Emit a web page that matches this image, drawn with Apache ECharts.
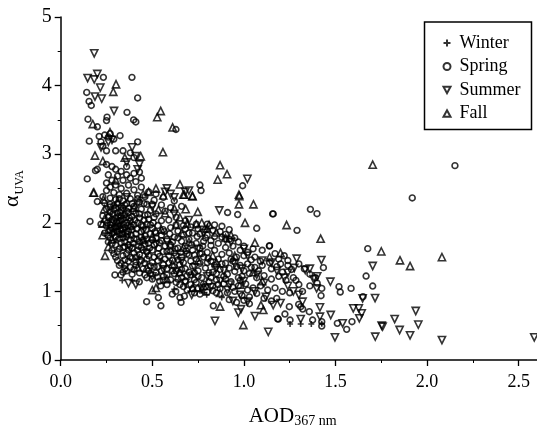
<!DOCTYPE html>
<html><head><meta charset="utf-8">
<style>html,body{margin:0;padding:0;background:#fff}#c{width:537px;height:426px}</style>
<script src="https://cdn.jsdelivr.net/npm/echarts@6/dist/echarts.min.js"></script>
</head><body><div id="c"></div>
<script>
const seasons=["Winter","Spring","Summer","Fall"];
const winter=[[.336,1.16],[.391,1.16],[.62,1.03],[.797,.95],[.879,.91],[1.252,.525],[1.31,.525],[1.368,.525],[1.425,.53],[.55,1.45],[.72,1.25],[.3,1.75],[.43,1.5],[.78,.98],[.76,1.01]];
const spring=[
[.16,2.02],[.2,2.31],[.296,1.24],[.329,1.24],[.429,1.14],[.469,.85],[.533,.91],[.547,.79],[.546,1.08],[.609,.96],[.628,1.0],[.651,.91],[.675,.93],[.657,.84],[.833,.79],[.911,2.15],[.966,2.12],[1.07,1.92],[1.157,2.13],[1.139,1.66],[1.184,.6],
[.233,4.12],[.389,4.12],[.142,3.9],[.155,3.77],[.167,3.71],[.42,3.82],[.362,3.61],[.398,3.5],[.41,3.47],[.149,3.51],[.253,3.54],[.25,3.49],[.2,3.4],[.324,3.27],[.629,3.36],[.156,3.19],[.42,3.18],[.76,2.55],[.766,2.47],[.993,2.54],[.145,2.64],
[1.16,2.13],[1.363,2.196],[1.399,2.133],[1.29,1.89],[1.14,1.667],[1.676,1.623],[1.434,1.346],[1.667,1.224],[1.703,1.078],[1.585,1.044],[1.519,1.069],[1.526,.991],[1.65,.923],[1.425,1.044],[1.421,.937],[1.357,.704],[1.299,.811],[1.31,.777],[1.321,.743],[1.248,.777],[1.224,.67],[1.188,.597],[1.252,.583],[1.375,.583],[1.425,.558],[1.425,.495],[1.51,.534],[1.561,.447],[1.59,.558],[1.179,.899],[1.284,1.161],[2.152,2.833],[1.919,2.362],
[.21,3.26],[.22,3.18],[.24,3.28],[.26,3.25],[.23,3.12],[.25,3.05],[.27,3.3],[.29,3.22],[.3,3.05],[.34,3.05],[.38,3.02],[.4,2.95],[.36,2.82],[.25,2.85],[.28,2.82],[.2,2.78],[.19,2.76],[.26,2.7],[.3,2.78],[.33,2.75],[.36,2.7],[.4,2.72],[.43,2.74],[.44,2.65],[.41,2.6],[.38,2.65],[.34,2.62],[.31,2.68],[.28,2.62],[.25,2.58],[.27,2.52],[.3,2.55],[.33,2.5],[.37,2.55],[.4,2.48],[.44,2.52],[.48,2.45],[.52,2.42],[.25,2.47],[.29,2.44],[.32,2.41],[.36,2.43],[.42,2.4],[.46,2.38],[.51,2.33],[.56,2.37],[.62,2.32],[.23,2.38],[.27,2.36],[.3,2.34],[.34,2.32],[.38,2.35],[.43,2.3],[.47,2.27],[.55,2.26],[.6,2.22],[.66,2.24],
[.24,2.29],[.27,2.27],[.29,2.25],[.31,2.28],[.33,2.24],[.35,2.26],[.37,2.21],[.4,2.24],[.44,2.2],[.49,2.18],[.52,2.13],[.57,2.17],[.63,2.08],[.68,2.03],[.74,1.98],[.8,1.98],[.84,1.97],[.88,1.95],[.92,1.9],
[.25,2.2],[.27,2.16],[.29,2.19],[.31,2.14],[.33,2.18],[.35,2.12],[.37,2.15],[.39,2.09],[.41,2.14],[.43,2.07],[.46,2.11],[.48,2.05],[.51,2.08],[.55,2.03],[.59,2.04],[.63,1.97],[.67,1.96],[.71,1.94],[.75,1.91],[.79,1.9],[.83,1.89],[.87,1.87],[.9,1.83],[.95,1.78],
[.23,2.1],[.26,2.08],[.28,2.05],[.3,2.07],[.32,2.03],[.34,2.06],[.36,2.0],[.38,2.03],[.4,1.97],[.42,2.0],[.45,1.95],[.47,1.98],[.5,1.92],[.53,1.96],[.56,1.9],[.6,1.93],[.64,1.88],[.68,1.91],[.72,1.85],[.76,1.84],[.8,1.82],[.84,1.8],[.88,1.79],[.92,1.76],[.97,1.72],[1.0,1.66],
[.22,1.98],[.25,1.95],[.27,1.97],[.29,1.92],[.31,1.95],[.33,1.9],[.35,1.93],[.37,1.87],[.39,1.9],[.41,1.84],[.44,1.87],[.46,1.81],[.49,1.84],[.52,1.78],[.55,1.82],[.58,1.76],[.62,1.79],[.66,1.73],[.7,1.76],[.74,1.7],[.78,1.73],[.82,1.67],[.86,1.7],[.9,1.64],[.94,1.66],[.98,1.6],[1.02,1.57],[1.06,1.5],
[.24,1.85],[.26,1.82],[.28,1.84],[.3,1.8],[.32,1.83],[.34,1.78],[.36,1.8],[.38,1.75],[.4,1.77],[.43,1.72],[.45,1.75],[.48,1.7],[.51,1.68],[.54,1.71],[.57,1.66],[.6,1.68],[.64,1.63],[.68,1.66],[.72,1.6],[.76,1.63],[.8,1.57],[.84,1.6],[.88,1.54],[.92,1.56],[.96,1.5],[1.0,1.52],[1.04,1.46],[1.09,1.44],[1.14,1.42],
[.26,1.72],[.28,1.7],[.3,1.68],[.33,1.71],[.35,1.65],[.37,1.68],[.39,1.63],[.42,1.6],[.44,1.64],[.47,1.58],[.5,1.6],[.53,1.55],[.56,1.58],[.59,1.52],[.62,1.56],[.66,1.5],[.7,1.53],[.74,1.47],[.78,1.5],[.82,1.44],[.86,1.47],[.9,1.41],[.94,1.44],[.98,1.38],[1.02,1.4],[1.06,1.35],[1.1,1.38],[1.15,1.33],[1.2,1.4],[1.24,1.45],[1.22,1.52],[1.19,1.47],
[.29,1.55],[.31,1.58],[.34,1.52],[.36,1.55],[.39,1.48],[.41,1.5],[.44,1.45],[.47,1.47],[.5,1.42],[.53,1.45],[.56,1.39],[.59,1.42],[.62,1.36],[.65,1.39],[.68,1.33],[.72,1.37],[.75,1.3],[.79,1.34],[.83,1.28],[.87,1.32],[.91,1.25],[.95,1.29],[.99,1.22],[1.03,1.26],[1.07,1.2],[1.11,1.23],[1.15,1.18],[1.19,1.22],[1.23,1.16],[1.27,1.2],
[.31,1.45],[.33,1.41],[.35,1.38],[.38,1.35],[.41,1.38],[.45,1.33],[.48,1.3],[.52,1.27],[.55,1.3],[.58,1.24],[.62,1.26],[.66,1.2],[.69,1.23],[.73,1.17],[.77,1.2],[.81,1.14],[.85,1.17],[.89,1.11],[.93,1.14],[.97,1.08],[1.01,1.11],[1.05,1.05],[1.09,1.08],[1.13,1.02],[1.17,1.05],[1.21,1.0],[1.25,.98],
[.34,1.28],[.39,1.25],[.5,1.18],[.54,1.15],[.58,1.1],[.63,1.13],[.67,1.07],[.71,1.1],[.75,1.04],[.79,1.07],[.83,1.01],[.87,1.04],[.91,.98],[.95,1.0],[.99,.94],[1.03,.92],[1.07,.97],[1.11,.9],[1.15,.86],[.73,.98],[.76,.96],[.8,.99],[.92,.88],[.96,.84],[1.0,.87],[1.03,.82],
[1.3,1.4],[1.33,1.33],[1.36,1.25],[1.39,1.2],[1.3,1.1],[1.26,1.32],[1.21,1.28],[1.18,1.36],[1.24,1.38],[1.05,1.62],[1.1,1.6],[1.17,1.55],[1.4,1.12],[1.36,1.08],[1.32,1.0],
[.27,2.23],[.285,2.13],[.3,2.22],[.315,2.09],[.325,2.15],[.34,2.21],[.355,2.07],[.365,1.96],[.28,2.0],[.3,1.94],[.315,1.99],[.33,2.1],[.345,1.97],[.36,2.17],[.375,2.07],[.385,1.94],[.395,2.17],[.405,2.04],[.415,1.91],[.43,2.13],[.44,1.97],[.455,2.04],[.465,1.9],[.475,2.12],[.49,1.97],[.505,2.0],[.515,1.87],[.27,1.89],[.29,1.86],[.305,1.88],[.32,1.77],[.335,1.84],[.35,1.72],[.365,1.83],[.385,1.82],[.395,1.7],[.415,1.76],[.425,1.66],[.44,1.79],[.46,1.69],[.47,1.76],[.485,1.63],[.5,1.75],[.52,1.85],[.535,1.63],[.55,1.74],[.565,1.87],[.58,1.58],[.595,1.84],[.61,1.72],[.625,1.62],[.64,1.78],[.655,1.57],[.67,1.82],[.685,1.59],[.7,1.85],[.715,1.68],[.73,1.53],[.745,1.8],[.76,1.55],[.775,1.66],[.79,1.78],[.805,1.48],[.82,1.74],
[.32,1.62],[.34,1.64],[.35,1.46],[.37,1.6],[.38,1.5],[.4,1.56],[.41,1.43],[.43,1.54],[.45,1.6],[.46,1.41],[.48,1.52],[.49,1.37],[.51,1.5],[.53,1.36],[.54,1.51],[.57,1.47],[.58,1.33],[.6,1.58],[.61,1.45],[.63,1.3],[.64,1.46],[.66,1.32],[.67,1.42],[.69,1.55],[.7,1.28],[.71,1.44],[.73,1.27],[.76,1.41],[.77,1.55],[.8,1.42],[.81,1.27],[.84,1.38],[.85,1.26],[.88,1.4],[.89,1.22],[.92,1.34],[.93,1.47],[.96,1.36],[.97,1.2],[1.0,1.3],[1.04,1.35],[1.08,1.3],
[.36,1.3],[.4,1.32],[.43,1.27],[.46,1.24],[.49,1.26],[.51,1.36],[.53,1.21],[.56,1.22],[.6,1.17],[.61,1.3],[.64,1.18],[.65,1.27],[.68,1.15],[.71,1.24],[.74,1.13],[.75,1.22],[.78,1.11],[.82,1.2],[.83,1.08],[.86,1.1],[.9,1.18],[.94,1.06],[.98,1.16],[1.02,1.02],[.72,1.04],[.69,1.02],[.85,.98],[.65,1.1],[.56,1.16],[.47,1.2],
[.28,1.6],[.3,1.5],[.32,1.38],[.35,1.33],[.37,1.44],[.27,1.78],[.255,2.0],[.265,2.1],[.275,1.93],[.31,1.87],[.325,1.96],[.34,1.91],[.355,1.86],[.29,2.03],[.305,2.01],[.36,2.28],[.39,2.28],[.32,2.35],[.42,2.35],[.455,2.28],[.5,2.27]
];
const summer=[
[.183,4.47],[.147,4.11],[.183,4.09],[.2,4.17],[.216,3.97],[.187,3.84],[.224,3.81],[.291,3.63],[1.019,2.64],[.842,.57],[1.133,.41],[.866,2.18],[1.06,.64],[.97,.69],[.984,.74],[.715,.95],
[1.288,1.477],[1.423,1.457],[1.703,1.37],[1.275,1.341],[1.335,1.312],[1.472,1.141],[1.397,1.044],[1.716,.903],[1.648,.899],[1.597,.753],[1.627,.753],[1.643,.68],[1.63,.607],[1.938,.714],[1.823,.597],[1.952,.515],[1.752,.5],[1.757,.485],[1.85,.437],[1.907,.359],[1.717,.34],[1.497,.33],[2.081,.291],[2.585,.33],[1.474,.656],[1.539,.534],[1.415,.767],[1.415,.631],[1.31,.597],
[.26,3.18],[.28,3.21],[.22,3.1],[.39,3.1],[.41,2.97],[.43,2.85],[.36,2.88],[.42,2.78],[.62,2.37],[.6,2.42],[.57,2.45],[.58,2.5],[.68,2.45],[.7,2.47],[.36,2.37],[.42,2.28],[.5,2.23],[.62,2.13],[.7,2.04],[.78,1.85],[.9,1.75],[.93,1.72],[1.0,1.62],[1.02,1.52],[1.1,1.45],[1.15,1.42],[1.18,1.3],[1.24,1.08],[1.27,1.0],[1.3,.95],[1.12,.92],[1.16,.8],[1.2,.83],
[.37,1.12],[.41,1.1],[.5,1.22],[.56,1.32],[.66,1.44],[.8,1.22],[.87,1.15],[.92,1.1],[.98,.95],[1.02,.85],[1.06,1.0],[.95,1.4],[.99,1.33],[.85,1.34],[.75,1.62],[.52,1.68],[.45,1.88],[.33,2.02],[1.32,.85],[1.36,1.33],[1.38,1.18],[1.4,1.22],[1.24,1.27],[1.22,1.2],
[1.07,1.24],[1.11,1.12],[.89,1.3],[.91,1.02],[.94,.86],[1.0,1.15],[.82,1.06],[.73,1.35],[.63,1.5],[.58,1.72],[.47,1.55],[.38,1.63],[.3,1.9],[.43,1.42],[.68,1.12],[.77,1.04]
];
const fall=[
[.302,4.02],[.287,3.91],[.546,3.63],[.527,3.54],[.175,3.44],[.269,3.32],[.558,3.03],[.437,2.97],[.187,2.98],[.611,3.39],[.87,2.84],[.908,2.71],[.857,2.63],[.651,2.56],[.675,2.41],[.718,2.39],[.975,2.39],[.182,2.44],[.997,.51],[.973,2.41],[.973,2.27],[1.052,2.27],[1.006,2.0],[1.06,1.71],[1.093,.8],[1.106,.73],[.87,.78],[.178,2.44],[.233,2.34],[.238,2.2],[.229,1.99],[.229,1.82],[.26,1.65],[.242,1.52],[.669,2.41],[.72,2.39],[.682,2.2],[.748,2.16],[.533,2.19],
[1.233,1.968],[1.419,1.768],[1.75,1.584],[1.852,1.453],[1.907,1.37],[2.081,1.5],[1.703,2.848],
[.48,2.45],[.52,2.5],[.45,2.42],[.56,2.4],[.62,2.21],[.57,2.14],[.65,2.08],[.8,1.92],[.85,1.86],[.74,1.98],[.66,1.85],[.9,1.78],[.7,1.72],[.55,1.9],[.6,1.68],[.45,1.75],[.34,1.85],[.31,2.3],[.4,2.22],[.3,2.62],[.35,2.95],[.23,2.9],[.95,1.52],[.85,1.42],[.65,1.28],[.58,1.18],[.78,1.08],[.87,.98],[1.05,1.28],[1.1,1.15],[1.2,1.56],[1.14,1.5],[.72,1.05],[.52,1.05],[.5,1.02],[.42,1.35],[.98,1.1],
[.63,1.97],[.69,1.99],[.77,2.0],[.81,1.97],[.93,1.82],[.24,2.06],[.26,1.9],[.28,1.76],[.38,1.97],[.5,1.8],[.75,1.45],[.83,1.52],[.67,1.64],[.47,1.35],[.61,1.4]
];
const chart=echarts.init(document.getElementById('c'),null,{renderer:'canvas'});
const F='"Liberation Serif","Times New Roman",serif';
const INK='#000';
const stroke={color:'rgba(0,0,0,0)',borderColor:INK,borderWidth:1.6};
const PLUS='path://M5 0V10M0 5H10';
const DOWN='path://M0 0H10L5 9Z';
const UP='path://M5 0L10 9H0Z';
function s(name,data,symbol,size){return {name,type:'scatter',data,symbol,symbolSize:size,itemStyle:stroke,clip:false,animation:false,silent:true};}
chart.setOption({
 animation:false,backgroundColor:'#fff',
 grid:{left:60.7,top:17,width:503.8,height:343,containLabel:false,outerBoundsMode:'none'},
 xAxis:{type:'value',min:0,max:2.75,interval:0.5,
  name:'{a|AOD}{b|367 nm}',nameLocation:'middle',nameGap:44,
  nameTextStyle:{padding:[0,0,0,-40],rich:{a:{fontFamily:F,fontSize:21,color:INK},b:{fontFamily:F,fontSize:14,color:INK,padding:[10,0,0,0]}}},
  axisLine:{show:true,onZero:false,lineStyle:{color:INK,width:1.5}},
  axisTick:{show:true,length:6,lineStyle:{color:INK,width:1.3}},
  minorTick:{show:true,splitNumber:2,length:3,lineStyle:{color:INK,width:1}},
  axisLabel:{showMaxLabel:false,formatter:v=>v.toFixed(1),fontFamily:F,fontSize:18,color:INK,margin:13},
  splitLine:{show:false},minorSplitLine:{show:false}},
 yAxis:{type:'value',min:0,max:5,interval:1,
  name:'{a|α}{b|UVA}',nameLocation:'middle',nameGap:35,nameRotate:90,
  nameTextStyle:{rich:{a:{fontFamily:F,fontSize:22,color:INK},b:{fontFamily:F,fontSize:12,color:INK,padding:[14,0,0,1]}}},
  axisLine:{show:true,onZero:false,lineStyle:{color:INK,width:1.5}},
  axisTick:{show:true,length:6,lineStyle:{color:INK,width:1.3}},
  minorTick:{show:true,splitNumber:2,length:3,lineStyle:{color:INK,width:1}},
  axisLabel:{fontFamily:F,fontSize:20,color:INK,margin:9},
  splitLine:{show:false},minorSplitLine:{show:false}},
 legend:{show:true,orient:'vertical',right:5.5,top:22,
  data:[{name:'Winter',icon:PLUS},{name:'Spring',icon:'circle'},{name:'Summer',icon:DOWN},{name:'Fall',icon:UP}],
  itemWidth:7,itemHeight:7,itemGap:5.5,padding:[12,11,7,18],
  borderColor:INK,borderWidth:1.5,backgroundColor:'#fff',selectedMode:false,
  textStyle:{fontFamily:F,fontSize:18,color:INK,padding:[0,0,0,4],lineHeight:18}},
 series:[
  s('Winter',winter,PLUS,6),
  s('Spring',spring,'circle',5.8),
  s('Summer',summer,DOWN,7.2),
  s('Fall',fall,UP,7.2)
 ]
});
</script></body></html>
